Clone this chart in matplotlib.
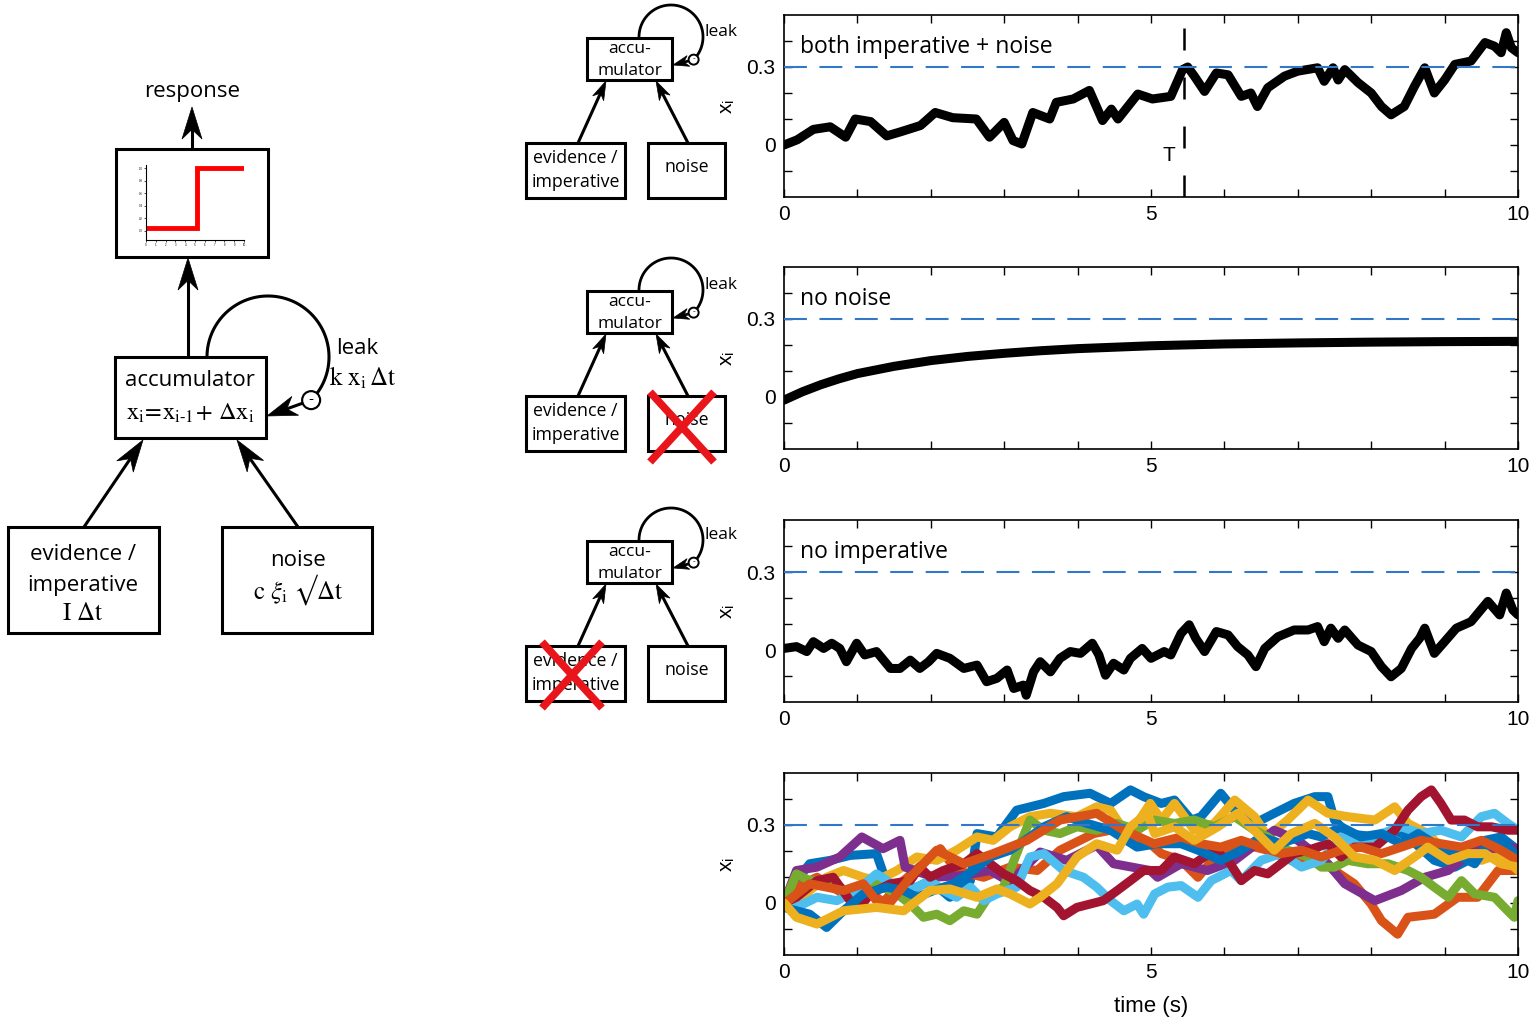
import numpy as np
import matplotlib
matplotlib.use("Agg")
from matplotlib import pyplot as plt
from matplotlib.patches import Rectangle, Polygon, Circle

plt.rcParams['font.family'] = ['Liberation Sans', 'DejaVu Sans']
plt.rcParams['mathtext.fontset'] = 'stix'

# ---------------- data ----------------
x_ticks = [0, 1, 2, 3, 4, 5, 6, 7, 8, 9, 10]
x_ticklabels = ['0', '', '', '', '', '5', '', '', '', '', '10']
y_ticks = [-0.1, 0, 0.1, 0.2, 0.3, 0.4]
y_ticklabels = ['', '0', '', '', '0.3', '']
threshold = 0.3
T_time = 5.45

titles = ['both imperative + noise', 'no noise', 'no imperative']

# response step inside the output box
resp_t = [0.2, 5.2, 5.2, 9.8]
resp_y = [0.04, 0.04, 1.0, 1.0]

# panel 1: imperative + noise
both_t = [0, .18, .4, .63, .84, .97, 1.18, 1.4, 1.58, 1.86, 2.06, 2.3, 2.62, 2.8, 3.0, 3.12,
          3.24, 3.39, 3.62, 3.71, 3.94, 4.16, 4.34, 4.46, 4.55, 4.82, 5.02, 5.27, 5.43, 5.5,
          5.59, 5.73, 5.89, 6.05, 6.23, 6.36, 6.45, 6.59, 6.82, 7.0, 7.27, 7.36, 7.48, 7.55,
          7.64, 7.82, 8.0, 8.14, 8.27, 8.45, 8.59, 8.73, 8.86, 9.0, 9.14, 9.36, 9.55, 9.68,
          9.77, 9.84, 9.91, 10.0]
both_x = [0, .02, .06, .07, .03, .10, .09, .035, .05, .075, .125, .105, .10, .03, .087, .017,
          .004, .125, .10, .164, .177, .21, .094, .138, .10, .196, .177, .187, .29, .30,
          .265, .206, .277, .27, .187, .20, .148, .22, .265, .284, .297, .245, .297, .25,
          .29, .24, .20, .148, .116, .148, .226, .297, .20, .25, .31, .323, .394, .38,
          .355, .432, .374, .355]

# panel 2: no noise
nonoise_t = [0, .25, .5, .75, 1, 1.5, 2, 2.5, 3, 3.5, 4, 5, 6, 7, 8, 9, 10]
nonoise_x = [-.012, .02, .047, .07, .09, .118, .14, .156, .168, .178, .186, .197, .204,
             .208, .211, .213, .214]

# panel 3: no imperative
noimp_t = [0, .17, .31, .4, .54, .65, .76, .85, .99, 1.1, 1.26, 1.45, 1.58, 1.72, 1.85, 1.97,
           2.08, 2.26, 2.45, 2.63, 2.76, 2.9, 3.04, 3.13, 3.26, 3.3, 3.4, 3.49, 3.63, 3.76,
           3.9, 4.04, 4.2, 4.29, 4.38, 4.49, 4.63, 4.72, 4.88, 5.0, 5.18, 5.27, 5.41, 5.52,
           5.61, 5.73, 5.89, 6.05, 6.18, 6.32, 6.43, 6.55, 6.73, 6.95, 7.14, 7.27, 7.36, 7.45,
           7.55, 7.64, 7.82, 8.0, 8.14, 8.27, 8.41, 8.55, 8.66, 8.73, 8.86, 9.0, 9.16, 9.36,
           9.59, 9.75, 9.84, 9.93, 10.0]
noimp_x = [.006, .013, -.006, .032, .006, .026, .006, -.045, .026, -.019, -.006, -.071, -.071,
           -.039, -.071, -.045, -.013, -.032, -.071, -.058, -.122, -.109, -.077, -.148, -.135,
           -.174, -.084, -.045, -.084, -.032, -.006, -.013, .026, -.019, -.097, -.051, -.077,
           -.032, .006, -.032, -.006, -.019, .064, .097, .045, -.006, .071, .058, .013, -.019,
           -.064, .006, .051, .077, .077, .09, .032, .084, .045, .077, .019, -.006, -.064,
           -.103, -.071, .006, .045, .084, -.013, .032, .084, .109, .187, .135, .219, .154, .135]

# panel 4: ten runs
blueA_t = [0, .17, .35, .63, .9, 1.26, 1.45, 1.72, 1.99, 2.26, 2.54, 2.63, 2.9, 3.17, 3.54, 3.81,
           4.17, 4.45, 4.72, 4.9, 5.14, 5.32, 5.55, 5.68, 5.95, 6.14, 6.41, 6.68, 6.95, 7.23,
           7.41, 7.5, 7.68, 8.05, 8.32, 8.5, 8.86, 9.14, 9.32, 9.55, 9.77, 10.0]
blueA_x = [0, .086, .151, .164, .183, .19, .035, .048, .086, .022, .086, .267, .254, .357, .383,
           .409, .422, .383, .435, .409, .383, .396, .319, .332, .422, .357, .306, .345, .383,
           .409, .409, .319, .267, .254, .28, .254, .164, .138, .164, .241, .254, .203]
orange1_t = [0, .17, .45, .81, 1.08, 1.35, 1.63, 2.13, 2.35, 2.72, 3.08, 3.45, 3.76, 4.22, 4.45,
             4.67, 4.99, 5.14, 5.41, 5.64, 5.91, 6.23, 6.59, 6.91, 7.27, 7.5, 7.77, 8.0, 8.14,
             8.36, 8.5, 8.86, 9.18, 9.45, 9.73, 10.0]
orange1_x = [.009, .061, .099, .035, .061, .003, .086, .209, .125, .099, .138, .125, .203, .267,
             .28, .254, .228, .19, .164, .099, .19, .228, .203, .164, .177, .125, .074, -.004,
             -.068, -.12, -.055, -.043, .022, .022, .125, .125]
yellow1_t = [0, .17, .35, .58, .81, 1.08, 1.26, 1.54, 1.81, 2.08, 2.35, 2.63, 2.85, 3.08, 3.35,
             3.63, 3.99, 4.26, 4.45, 4.63, 4.81, 4.99, 5.14, 5.32, 5.59, 5.86, 6.14, 6.41, 6.59,
             6.86, 7.14, 7.41, 7.68, 8.05, 8.32, 8.5, 8.77, 8.95, 9.23, 9.5, 9.77, 10.0]
yellow1_x = [0, -.004, .048, .099, .125, .099, .086, .125, .177, .164, .203, .254, .241, .293,
             .332, .345, .332, .37, .357, .28, .306, .383, .319, .383, .28, .306, .396, .332,
             .254, .319, .396, .345, .332, .319, .37, .306, .267, .215, .19, .164, .19, .125]
purple_t = [0, .17, .45, .76, 1.06, 1.35, 1.58, 1.65, 2.04, 2.45, 2.81, 3.08, 3.49, 3.85, 4.26,
            4.49, 4.99, 5.09, 5.41, 5.77, 6.14, 6.68, 7.0, 7.41, 7.64, 8.05, 8.41, 8.73, 9.05,
            9.41, 9.86, 10.0]
purple_x = [0, .125, .138, .177, .254, .209, .241, .138, .099, .106, .125, .08, .196, .164, .222,
            .151, .125, .099, .151, .125, .164, .28, .241, .151, .074, .009, .048, .099, .125,
            .203, .215, .209]
green_t = [0, .17, .35, .63, .9, 1.26, 1.54, 1.72, 1.9, 2.08, 2.26, 2.45, 2.63, 2.81, 2.99, 3.17,
           3.35, 3.54, 3.76, 3.99, 4.26, 4.54, 4.81, 5.04, 5.32, 5.59, 5.86, 6.14, 6.41, 6.59,
           6.86, 7.14, 7.32, 7.5, 7.68, 7.95, 8.23, 8.5, 8.68, 8.86, 9.05, 9.23, 9.41, 9.68,
           9.86, 9.95, 10.0]
green_x = [0, .112, .086, .086, .035, .074, .035, -.004, -.055, -.043, -.068, -.03, -.043, .035,
           .061, .19, .319, .28, .267, .293, .28, .306, .28, .319, .306, .319, .293, .332, .28,
           .254, .203, .177, .138, .138, .164, .151, .151, .125, .099, .061, .022, .086, .035,
           .022, -.03, -.055, .009]
ltblue_t = [0, .17, .45, .72, .99, 1.26, 1.54, 1.81, 1.99, 2.17, 2.35, 2.54, 2.72, 2.9, 3.17,
            3.35, 3.54, 3.81, 4.08, 4.26, 4.45, 4.63, 4.81, 4.9, 5.05, 5.23, 5.41, 5.64, 5.82,
            6.09, 6.23, 6.5, 6.77, 7.05, 7.32, 7.59, 7.86, 8.14, 8.41, 8.68, 8.95, 9.23, 9.5,
            9.68, 9.86, 10.0]
ltblue_x = [0, -.017, .022, .009, .048, .112, .061, .061, .086, .048, .022, .061, .009, .035,
            .061, .177, .19, .125, .099, .061, .009, -.03, -.004, -.043, .035, .061, .067, .022,
            .086, .125, .086, .164, .19, .138, .164, .254, .228, .267, .293, .267, .28, .254,
            .332, .345, .306, .28]
red_t = [0, .17, .45, .67, .9, 1.04, 1.17, 1.45, 1.72, 1.85, 1.99, 2.17, 2.45, 2.63, 2.81, 2.99,
         3.17, 3.35, 3.54, 3.72, 3.81, 3.99, 4.17, 4.35, 4.54, 4.72, 4.9, 5.14, 5.32, 5.59,
         5.86, 6.05, 6.23, 6.41, 6.59, 6.77, 6.95, 7.14, 7.41, 7.59, 7.77, 8.05, 8.32, 8.5,
         8.68, 8.82, 8.95, 9.09, 9.27, 9.45, 9.64, 9.86, 10.0]
red_x = [0, .022, .086, .099, .009, -.017, .035, .074, .086, .138, .099, .125, .151, .19, .151,
         .112, .086, .048, .022, -.017, -.049, -.017, -.004, .009, .048, .086, .125, .125, .177,
         .151, .203, .164, .086, .125, .112, .151, .19, .203, .228, .177, .215, .215, .28, .357,
         .409, .435, .383, .319, .319, .293, .293, .28, .28]
blueB_t = [0, .17, .35, .58, .81, 1.08, 1.4, 1.63, 1.81, 2.04, 2.31, 2.58, 2.81, 3.08, 3.35,
           3.54, 3.85, 4.13, 4.45, 4.81, 5.08, 5.41, 5.64, 5.95, 6.23, 6.5, 6.77, 7.14, 7.32,
           7.59, 7.86, 8.14, 8.41, 8.64, 8.86, 9.14, 9.41, 9.59, 9.86, 10.0]
blueB_x = [-.017, -.03, -.043, -.094, -.03, .035, .061, .048, .022, .048, .074, .125, .177, .203,
           .254, .293, .332, .306, .28, .215, .228, .228, .203, .164, .203, .254, .228, .267,
           .254, .293, .254, .267, .228, .267, .228, .19, .151, .228, .215, .177]
orange2_t = [0, .35, .81, 1.08, 1.26, 1.45, 1.72, 2.08, 2.45, 2.85, 3.31, 3.76, 4.26, 4.63, 5.04,
             5.41, 5.68, 5.95, 6.23, 6.5, 6.77, 7.05, 7.32, 7.59, 7.86, 8.14, 8.41, 8.68, 8.95,
             9.23, 9.5, 9.77, 10.0]
orange2_x = [-.004, .074, .048, .074, .009, .003, .099, .203, .151, .19, .241, .319, .345, .28,
             .228, .254, .228, .215, .241, .215, .19, .203, .177, .203, .215, .19, .215, .241,
             .228, .215, .241, .203, .164]
yellow2_t = [0, .17, .45, .81, 1.26, 1.63, 1.99, 2.26, 2.63, 2.9, 3.08, 3.35, 3.49, 3.72, 3.99,
             4.26, 4.54, 4.72, 4.95, 5.05, 5.32, 5.59, 5.91, 6.18, 6.45, 6.68, 6.91, 7.23, 7.5,
             7.77, 8.05, 8.32, 8.59, 8.77, 9.05, 9.32, 9.55, 9.77, 10.0]
yellow2_x = [0, -.055, -.081, -.03, -.017, -.03, .048, .054, .022, .054, .035, -.004, .022, .074,
             .177, .228, .203, .293, .345, .267, .293, .241, .293, .345, .267, .203, .267, .306,
             .254, .177, .164, .125, .177, .215, .164, .19, .19, .151, .138]

runs = [(blueA_t, blueA_x, '#0072BD'), (orange1_t, orange1_x, '#D95319'),
        (yellow1_t, yellow1_x, '#EDB120'), (purple_t, purple_x, '#7E2F8E'),
        (green_t, green_x, '#77AC30'), (ltblue_t, ltblue_x, '#4DBEEE'),
        (red_t, red_x, '#A2142F'), (blueB_t, blueB_x, '#0072BD'),
        (orange2_t, orange2_x, '#D95319'), (yellow2_t, yellow2_x, '#EDB120')]

BLUE = '#3277c8'
SANS = 'Open Sans'
W, H = 1535, 1023

fig = plt.figure(figsize=(W / 100, H / 100), dpi=100)

# overlay in image pixel coordinates for the block diagrams
ov = fig.add_axes([0, 0, 1, 1])
ov.set_xlim(0, W)
ov.set_ylim(H, 0)
ov.axis('off')


def box(x0, y0, x1, y1, lw=2.2):
    ov.add_patch(Rectangle((x0, y0), x1 - x0, y1 - y0, fill=False, lw=lw, ec='k'))


def arrow(x0, y0, x1, y1, L, Wd, lw):
    d = np.array([x1 - x0, y1 - y0], float)
    d /= np.hypot(*d)
    n = np.array([-d[1], d[0]])
    tip = np.array([x1, y1])
    back = tip - L * d
    notch = tip - 0.7 * L * d
    ov.plot([x0, notch[0]], [y0, notch[1]], color='k', lw=lw, solid_capstyle='butt')
    ov.add_patch(Polygon([tip, back + n * Wd / 2, notch, back - n * Wd / 2],
                         closed=True, fc='k', ec='k', lw=0.5))


def loop(cx, cy, r, tip, cr, lw, L, Wd, fs):
    th = np.radians(np.linspace(180, 405, 120))
    ov.plot(cx + r * np.cos(th), cy + r * np.sin(th), color='k', lw=lw)
    mx, my = cx + r * np.cos(np.radians(45)), cy + r * np.sin(np.radians(45))
    arrow(mx, my, tip[0], tip[1], L, Wd, lw)
    ov.add_patch(Circle((mx, my), cr, fc='w', ec='k', lw=lw * 0.7, zorder=5))
    ov.text(mx, my - 1, '-', ha='center', va='center', fontsize=fs, family=SANS, zorder=6)


def label(x, y, s, fs, family=SANS):
    ov.text(x, y, s, ha='center', va='center', fontsize=fs, family=family)


# ---- big model diagram ----
label(192, 91, 'response', 16)
arrow(192, 150, 192, 107, 32, 20, 2.2)
box(116, 149, 268, 257)
arrow(188, 357, 188, 258, 32, 20, 2.2)
box(115, 357, 266, 438)
label(190, 381, 'accumulator', 16)
label(190, 414, r'$\mathrm{x_i\!=\!x_{i\text{-}1}\!+\,\Delta x_i}$', 17.5)
loop(268, 357, 61, (267, 416), 9, 2.2, 30, 20, 11)
ov.text(336, 348, 'leak', ha='left', va='center', fontsize=16, family=SANS)
ov.text(329, 378, r'$\mathrm{k\ x_i\,\Delta t}$', ha='left', va='center', fontsize=18)
box(8, 527, 159, 633)
label(83, 555, 'evidence /', 16)
label(83, 585, 'imperative', 16)
label(83, 614, r'$\mathrm{I\ \Delta t}$', 18)
box(222, 527, 372, 633)
label(298, 560, 'noise', 16)
label(298, 590, r'$\mathrm{c\ }\xi_{\mathrm{i}}\ √\mathrm{\Delta t}$', 18)
arrow(84, 527, 143, 440, 32, 20, 2.2)
arrow(298, 527, 237, 440, 32, 20, 2.2)

# mini response plot inside the box
mini = fig.add_axes([146 / W, 1 - 240 / H, 98 / W, 75 / H])
mini.plot(resp_t, resp_y, color='#ff0000', lw=3.5, solid_joinstyle='miter')
mini.set_xlim(0, 10)
mini.set_ylim(-0.15, 1.05)
mini.set_xticks(range(11))
mini.set_yticks([0, 0.2, 0.4, 0.6, 0.8, 1.0])
mini.tick_params(labelsize=2, length=1.5, width=0.5, pad=0.5)
for s in ['top', 'right']:
    mini.spines[s].set_visible(False)
for s in ['left', 'bottom']:
    mini.spines[s].set_linewidth(0.8)
mini.patch.set_alpha(0)


# ---- small diagrams ----
def small_diagram(dy):
    box(587, 38 + dy, 672, 80 + dy, lw=2.2)
    label(629.5, 49 + dy, 'accu-', 12.5)
    label(629.5, 71 + dy, 'mulator', 12.5)
    loop(671, 37 + dy, 32, (673, 65 + dy), 5, 2.0, 16, 11, 6)
    ov.text(705, 32 + dy, 'leak', ha='left', va='center', fontsize=12.5, family=SANS)
    box(526, 143 + dy, 625, 198 + dy)
    label(575.5, 158 + dy, 'evidence /', 12.8)
    label(575.5, 182 + dy, 'imperative', 12.8)
    box(648, 143 + dy, 725, 198 + dy)
    label(686.5, 167 + dy, 'noise', 12.8)
    arrow(578, 143 + dy, 606, 81 + dy, 19, 12, 2.2)
    arrow(688, 143 + dy, 656, 81 + dy, 19, 12, 2.2)


def red_x(x0, y0, x1, y1):
    ov.plot([x0, x1], [y0, y1], color='#e8151b', lw=5.5, solid_capstyle='butt', zorder=8)
    ov.plot([x0, x1], [y1, y0], color='#e8151b', lw=5.5, solid_capstyle='butt', zorder=8)


small_diagram(0)
small_diagram(253)
small_diagram(503)
red_x(650, 392, 714, 462)
red_x(542, 642, 602, 708)


# ---- trace panels ----
def trace_axes(y0, y1):
    ax = fig.add_axes([784 / W, 1 - y1 / H, 734 / W, (y1 - y0) / H])
    ax.set_xlim(0, 10)
    ax.set_ylim(-0.2, 0.5)
    ax.set_xticks(x_ticks)
    ax.set_xticklabels(x_ticklabels)
    ax.set_yticks(y_ticks)
    ax.set_yticklabels(y_ticklabels)
    ax.tick_params(direction='in', top=True, right=True, length=6, width=1,
                   labelsize=15, pad=6)
    for s in ax.spines.values():
        s.set_linewidth(1.2)
    ax.axhline(threshold, color=BLUE, lw=1.5, dashes=(11, 6), zorder=4)
    ax.set_ylabel(r'x$_\mathregular{i}$', fontsize=15)
    ax.yaxis.set_label_coords(-0.064, 0.5)
    return ax


panel_y = [(15, 197), (267, 449), (520, 702), (773, 955)]
axs = [trace_axes(a, b) for a, b in panel_y]

line_kw = dict(lw=6.5, solid_joinstyle='round', solid_capstyle='round')
axs[0].plot(both_t, both_x, color='k', **line_kw)
axs[1].plot(nonoise_t, nonoise_x, color='k', **line_kw)
axs[2].plot(noimp_t, noimp_x, color='k', **line_kw)
for t, x, c in runs:
    axs[3].plot(t, x, color=c, **line_kw)

for ax, title in zip(axs[:3], titles):
    ax.text(0.022, 0.824, title, transform=ax.transAxes, fontsize=16.5, family=SANS,
            va='center', ha='left')

axs[0].plot([T_time, T_time], [-0.2, 0.5], color='k', lw=1.8, dashes=(8.8, 10.8), zorder=5)
axs[0].text(T_time - 0.2, -0.04, 'T', fontsize=15, ha='center', va='center')

axs[3].set_xlabel('time (s)', fontsize=16, labelpad=10)

fig.savefig('out.png', dpi=100)
